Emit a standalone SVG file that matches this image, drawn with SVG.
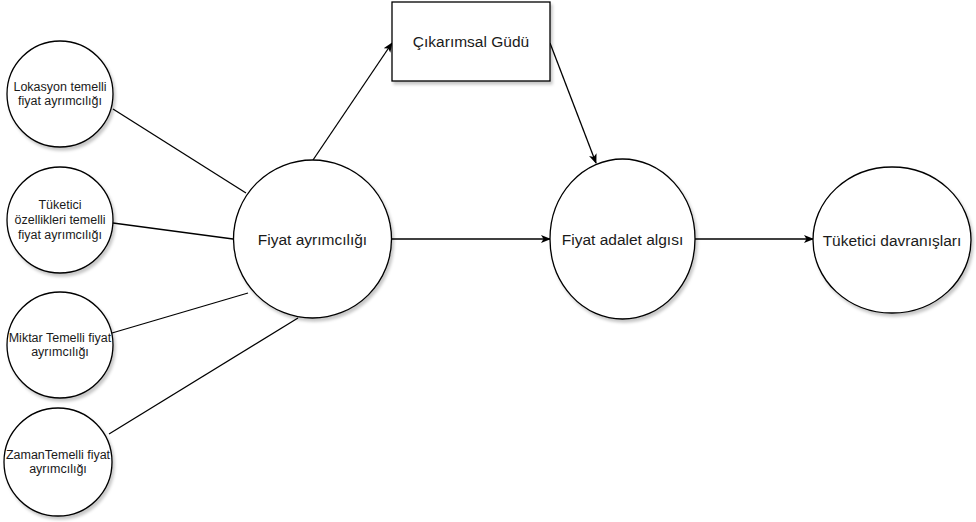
<svg xmlns="http://www.w3.org/2000/svg" width="976" height="522" viewBox="0 0 976 522">
<style>
.n{fill:#fff;stroke:#000;stroke-width:1.3;filter:url(#sh)}
.t{font-family:"Liberation Sans",Arial,sans-serif;fill:#1a1a1a;text-anchor:middle;dominant-baseline:central}
.s{font-size:12.5px}
.b{font-size:15.5px}
.c{stroke:#000;stroke-width:1.3;fill:none}
</style>
<defs>
<filter id="sh" x="-20%" y="-20%" width="150%" height="150%">
<feDropShadow dx="2" dy="3" stdDeviation="1.5" flood-color="#000" flood-opacity="0.22"/>
</filter>
<marker id="ar" viewBox="0 0 10 10" refX="9" refY="5" markerWidth="10" markerHeight="10" markerUnits="userSpaceOnUse" orient="auto">
<path d="M0,1 L10,5 L0,9 L2.5,5 Z" fill="#000"/>
</marker>
</defs>
<rect width="976" height="522" fill="#fff"/>
<g id="connectors">
<line class="c" x1="113" y1="109" x2="246" y2="193"/>
<line class="c" x1="113" y1="223" x2="233" y2="239"/>
<line class="c" x1="112" y1="333" x2="248" y2="293"/>
<line class="c" x1="109" y1="434" x2="298" y2="318"/>
<line class="c" x1="313" y1="160" x2="392" y2="43" marker-end="url(#ar)"/>
<line class="c" x1="550" y1="43" x2="596" y2="163" marker-end="url(#ar)"/>
<line class="c" x1="392" y1="239" x2="550" y2="239" marker-end="url(#ar)"/>
<line class="c" x1="695" y1="239" x2="813" y2="239" marker-end="url(#ar)"/>
</g>
<g id="lokasyon">
<circle class="n" cx="60" cy="94" r="53"/>
<text class="t s" x="60" y="87">Lokasyon temelli</text>
<text class="t s" x="60" y="101">fiyat ayrımcılığı</text>
</g>
<g id="tuketici-ozellikleri">
<circle class="n" cx="60" cy="220" r="53"/>
<text class="t s" x="60" y="205">Tüketici</text>
<text class="t s" x="60" y="220">özellikleri temelli</text>
<text class="t s" x="60" y="235">fiyat ayrımcılığı</text>
</g>
<g id="miktar">
<circle class="n" cx="60" cy="345" r="53"/>
<text class="t s" x="60" y="338">Miktar Temelli fiyat</text>
<text class="t s" x="60" y="352">ayrımcılığı</text>
</g>
<g id="zaman">
<circle class="n" cx="58" cy="462" r="54"/>
<text class="t s" x="58" y="455">ZamanTemelli fiyat</text>
<text class="t s" x="58" y="469">ayrımcılığı</text>
</g>
<g id="fiyat-ayrimciligi">
<circle class="n" cx="312.5" cy="239" r="79"/>
<text class="t b" x="312.5" y="239">Fiyat ayrımcılığı</text>
</g>
<g id="cikarimsal-gudu">
<rect class="n" x="392" y="2" width="158" height="79"/>
<text class="t b" x="471" y="41">Çıkarımsal Güdü</text>
</g>
<g id="fiyat-adalet">
<ellipse class="n" cx="622.5" cy="239" rx="72.5" ry="80"/>
<text class="t b" x="622.5" y="239">Fiyat adalet algısı</text>
</g>
<g id="tuketici-davranislari">
<ellipse class="n" cx="892" cy="240" rx="79" ry="73"/>
<text class="t b" x="892" y="240">Tüketici davranışları</text>
</g>
</svg>
